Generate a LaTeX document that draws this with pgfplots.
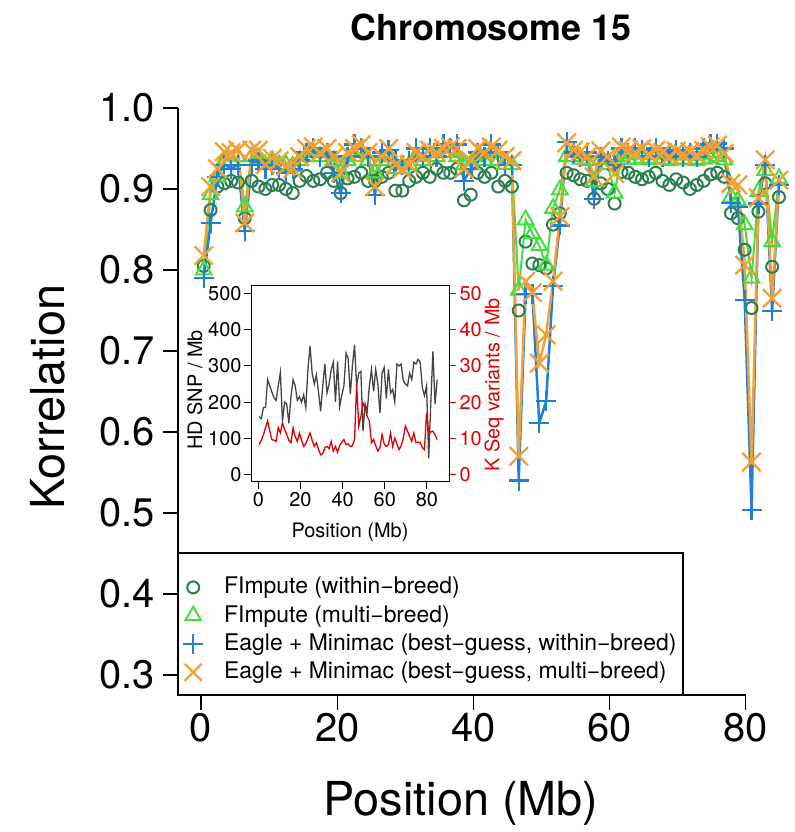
\documentclass[border=0pt]{standalone}
\usepackage{pgfplots}
\pgfplotsset{compat=1.18}
\usepackage{pgfplotstable}
\usepackage{fontspec}
\setmainfont{TeX Gyre Heros}
\definecolor{cgreen}{HTML}{2A7F4F}
\definecolor{tgreen}{HTML}{40E040}
\definecolor{pblue}{HTML}{2080D8}
\definecolor{xorange}{HTML}{F5A035}
\definecolor{hdgray}{HTML}{444444}
\definecolor{kred}{HTML}{E00000}
\newcommand\fs[2]{\fontsize{#1}{#2}\selectfont}

\pgfplotstableread{
x c t b o
0.40 0.805 0.800 0.790 0.818
1.41 0.874 0.893 0.858 0.903
2.41 0.903 0.915 0.915 0.925
3.42 0.907 0.935 0.930 0.946
4.42 0.910 0.935 0.925 0.945
5.43 0.908 0.940 0.930 0.948
6.43 0.864 0.878 0.848 0.858
7.44 0.910 0.940 0.930 0.948
8.44 0.903 0.937 0.935 0.948
9.45 0.900 0.930 0.925 0.930
10.46 0.905 0.935 0.930 0.938
11.46 0.905 0.930 0.925 0.935
12.47 0.900 0.930 0.920 0.928
13.47 0.895 0.928 0.925 0.925
14.48 0.910 0.935 0.935 0.940
15.48 0.916 0.940 0.945 0.950
16.49 0.910 0.945 0.950 0.952
17.49 0.912 0.940 0.940 0.945
18.50 0.920 0.940 0.945 0.950
19.50 0.910 0.935 0.920 0.940
20.51 0.895 0.920 0.895 0.920
21.52 0.913 0.935 0.940 0.945
22.52 0.915 0.940 0.955 0.950
23.53 0.920 0.945 0.950 0.955
24.53 0.910 0.935 0.940 0.945
25.54 0.910 0.920 0.893 0.903
26.54 0.915 0.935 0.945 0.940
27.55 0.920 0.940 0.948 0.950
28.55 0.898 0.925 0.935 0.930
29.56 0.898 0.925 0.930 0.925
30.57 0.910 0.930 0.935 0.930
31.57 0.915 0.940 0.950 0.945
32.58 0.920 0.935 0.940 0.940
33.58 0.915 0.940 0.950 0.948
34.59 0.925 0.940 0.940 0.945
35.59 0.920 0.945 0.955 0.950
36.60 0.920 0.945 0.950 0.952
37.60 0.925 0.940 0.955 0.950
38.61 0.886 0.930 0.910 0.925
39.61 0.893 0.930 0.925 0.935
40.62 0.920 0.940 0.945 0.950
41.63 0.915 0.935 0.940 0.945
42.63 0.920 0.945 0.955 0.952
43.64 0.903 0.935 0.945 0.948
44.64 0.910 0.930 0.930 0.940
45.65 0.903 0.930 0.930 0.935
46.65 0.750 0.775 0.540 0.570
47.66 0.835 0.862 0.770 0.786
48.66 0.808 0.845 0.770 0.772
49.67 0.806 0.830 0.611 0.685
50.68 0.802 0.806 0.638 0.720
51.68 0.856 0.876 0.780 0.786
52.69 0.870 0.899 0.855 0.866
53.69 0.920 0.940 0.958 0.957
54.70 0.917 0.940 0.945 0.948
55.70 0.912 0.937 0.940 0.946
56.71 0.910 0.935 0.945 0.940
57.71 0.888 0.909 0.888 0.915
58.72 0.907 0.937 0.940 0.947
59.72 0.900 0.930 0.935 0.940
60.73 0.882 0.895 0.930 0.919
61.74 0.921 0.940 0.950 0.952
62.74 0.920 0.937 0.945 0.948
63.75 0.915 0.937 0.950 0.945
64.75 0.912 0.938 0.948 0.950
65.76 0.915 0.936 0.940 0.943
66.76 0.920 0.938 0.950 0.948
67.77 0.910 0.937 0.940 0.945
68.77 0.905 0.935 0.945 0.940
69.78 0.912 0.937 0.948 0.947
70.79 0.908 0.936 0.940 0.943
71.79 0.900 0.937 0.945 0.946
72.80 0.905 0.935 0.940 0.942
73.80 0.910 0.937 0.950 0.948
74.81 0.918 0.938 0.955 0.952
75.81 0.920 0.940 0.956 0.954
76.82 0.915 0.936 0.950 0.944
77.82 0.870 0.890 0.883 0.907
78.83 0.864 0.886 0.878 0.905
79.83 0.825 0.856 0.763 0.806
80.84 0.753 0.790 0.504 0.563
81.85 0.872 0.897 0.882 0.889
82.85 0.907 0.923 0.930 0.936
83.86 0.804 0.835 0.749 0.765
84.86 0.890 0.913 0.905 0.911
}\maintab

\pgfplotstableread{
x hd k
0.40 160 8.3
1.41 155 9.5
2.41 185 11.0
3.42 185 13.0
4.42 262 14.8
5.43 245 12.0
6.43 228 9.7
7.44 212 9.5
8.44 205 9.2
9.45 245 13.0
10.46 282 11.5
11.46 148 14.3
12.47 200 12.5
13.47 195 11.1
14.48 142 9.5
15.48 215 8.8
16.49 262 12.9
17.49 245 10.5
18.50 205 9.2
19.50 215 11.5
20.51 200 9.5
21.52 220 7.8
22.52 185 8.5
23.53 290 10.0
24.53 355 11.5
25.54 280 9.5
26.54 250 7.8
27.55 275 8.8
28.55 228 7.0
29.56 175 5.5
30.57 245 5.8
31.57 305 7.5
32.58 225 7.8
33.58 250 7.2
34.59 290 9.2
35.59 310 6.5
36.60 200 7.8
37.60 312 6.2
38.61 188 8.0
39.61 220 9.0
40.62 245 9.7
41.63 335 8.3
42.63 320 8.5
43.64 222 7.8
44.64 300 8.0
45.65 358 9.7
46.65 245 24.9
47.66 280 13.4
48.66 285 16.1
49.67 120 19.8
50.68 195 18.5
51.68 175 16.0
52.69 245 14.8
53.69 290 8.8
54.70 230 9.7
55.70 290 8.0
56.71 250 6.5
57.71 170 7.5
58.72 280 11.1
59.72 295 8.5
60.73 210 7.8
61.74 290 8.3
62.74 225 11.5
63.75 235 7.8
64.75 200 10.1
65.76 305 8.5
66.76 300 6.9
67.77 305 8.0
68.77 260 10.0
69.78 250 13.4
70.79 245 12.0
71.79 280 10.6
72.80 262 9.2
73.80 310 11.5
74.81 305 8.8
75.81 318 9.0
76.82 310 8.8
77.82 240 7.5
78.83 218 6.9
79.83 245 17.0
80.84 45 11.5
81.85 200 11.8
82.85 340 12.0
83.86 195 11.0
84.86 262 9.7
}\insettab

\begin{document}
\begin{tikzpicture}
\useasboundingbox (0,0) rectangle (795bp,832bp);
% legend frame
\draw[line width=1.3bp, fill=white] (178bp,137bp) rectangle (683bp,279bp);
\begin{axis}[
  at={(178bp,137bp)}, anchor=south west,
  scale only axis, width=615.5bp, height=610bp,
  xmin=-3.377, xmax=87, ymin=0.2753, ymax=1.0284,
  axis lines*=left, axis line style={draw=none},
  tick align=outside, major tick length=15bp,
  tick style={black, line width=1.3bp},
  xtick={0,20,40,60,80},
  ytick={0.3,0.4,0.5,0.6,0.7,0.8,0.9,1.0},
  ticklabel style={font=\fs{40}{40}},
  yticklabel style={xshift=-5bp, /pgf/number format/.cd, fixed, fixed zerofill, precision=1},
  /pgf/number format/assume math mode=true,
  scaled ticks=false,
  clip=false,
  legend style={at={(0,0)}, anchor=south west, draw=none, fill=none,
    inner xsep=5bp, inner ysep=12bp, row sep=7.3bp, column sep=21bp,
    font=\fs{23}{28},
    nodes={inner sep=0bp, text height=17bp, text depth=4bp, anchor=west}},
  legend cell align=left,
]
\draw[line width=1.3bp] (axis cs:-3.377,0.3) -- (axis cs:-3.377,1.0);
\draw[line width=1.3bp] (axis cs:0,0.2753) -- (axis cs:80,0.2753);
\addplot[only marks, mark=o, cgreen, mark size=6bp, line width=2bp, forget plot] table[x=x,y=c]{\maintab};
\addplot[tgreen, line width=2bp, mark=triangle, mark size=9bp, mark options={solid, line width=2bp}, forget plot] table[x=x,y=t]{\maintab};
\addplot[pblue, line width=2.5bp, mark=+, mark size=10bp, mark options={solid, line width=2.3bp}, forget plot] table[x=x,y=b]{\maintab};
\addplot[xorange, line width=2.5bp, mark=x, mark size=13bp, mark options={solid, line width=2.3bp}, forget plot] table[x=x,y=o]{\maintab};
\addlegendimage{only marks, mark=o, cgreen, mark size=6bp, line width=2bp}
\addlegendentry{FImpute (within−breed)}
\addlegendimage{only marks, mark=triangle, tgreen, mark size=9bp, line width=2bp}
\addlegendentry{FImpute (multi−breed)}
\addlegendimage{only marks, mark=+, pblue, mark size=10bp, line width=2.3bp}
\addlegendentry{Eagle + Minimac (best−guess, within−breed)}
\addlegendimage{only marks, mark=x, xorange, mark size=12bp, line width=2.3bp}
\addlegendentry{Eagle + Minimac (best−guess, multi−breed)}
\end{axis}

% inset
\begin{axis}[
  at={(251bp,350bp)}, anchor=south west,
  scale only axis, width=198bp, height=196bp,
  xmin=-3.48, xmax=90.48, ymin=-20, ymax=520,
  axis background/.style={fill=white},
  axis line style={line width=1bp, black},
  tick align=outside, major tick length=7bp,
  tick style={line width=1bp, black},
  xtick={0,20,40,60,80}, ytick={0,100,200,300,400,500},
  xtick pos=bottom, ytick pos=left,
  ticklabel style={font=\fs{20}{20}},
  yticklabel style={xshift=1bp},
  /pgf/number format/assume math mode=true,
  scaled ticks=false,
]
\addplot[hdgray, line width=1.3bp] table[x=x,y=hd]{\insettab};
\end{axis}
\begin{axis}[
  at={(251bp,350bp)}, anchor=south west,
  scale only axis, width=198bp, height=196bp,
  xmin=-3.48, xmax=90.48, ymin=-2, ymax=52,
  axis x line=none, axis y line*=right,
  axis line style={draw=none},
  tick align=outside, major tick length=7bp,
  tick style={line width=1bp, kred},
  ytick={0,10,20,30,40,50},
  yticklabel style={kred, font=\fs{20}{20}},
  /pgf/number format/assume math mode=true,
  scaled ticks=false,
]
\addplot[kred, line width=1.3bp] table[x=x,y=k]{\insettab};
\end{axis}

% texts
\node[anchor=base, font=\fs{36}{36}\bfseries] at (491bp,791bp) {Chromosome 15};
\node[rotate=90, font=\fs{47}{47}] at (48bp,435bp) {Korrelation};
\node[anchor=base, font=\fs{47}{47}] at (461bp,17bp) {Position (Mb)};
\node[rotate=90, font=\fs{20}{20}, text=black] at (195bp,442bp) {HD SNP / Mb};
\node[rotate=90, font=\fs{20}{20}, text=kred] at (494bp,447bp) {K Seq variants / Mb};
\node[font=\fs{20}{20}] at (350bp,300bp) {Position (Mb)};
\end{tikzpicture}
\end{document}
